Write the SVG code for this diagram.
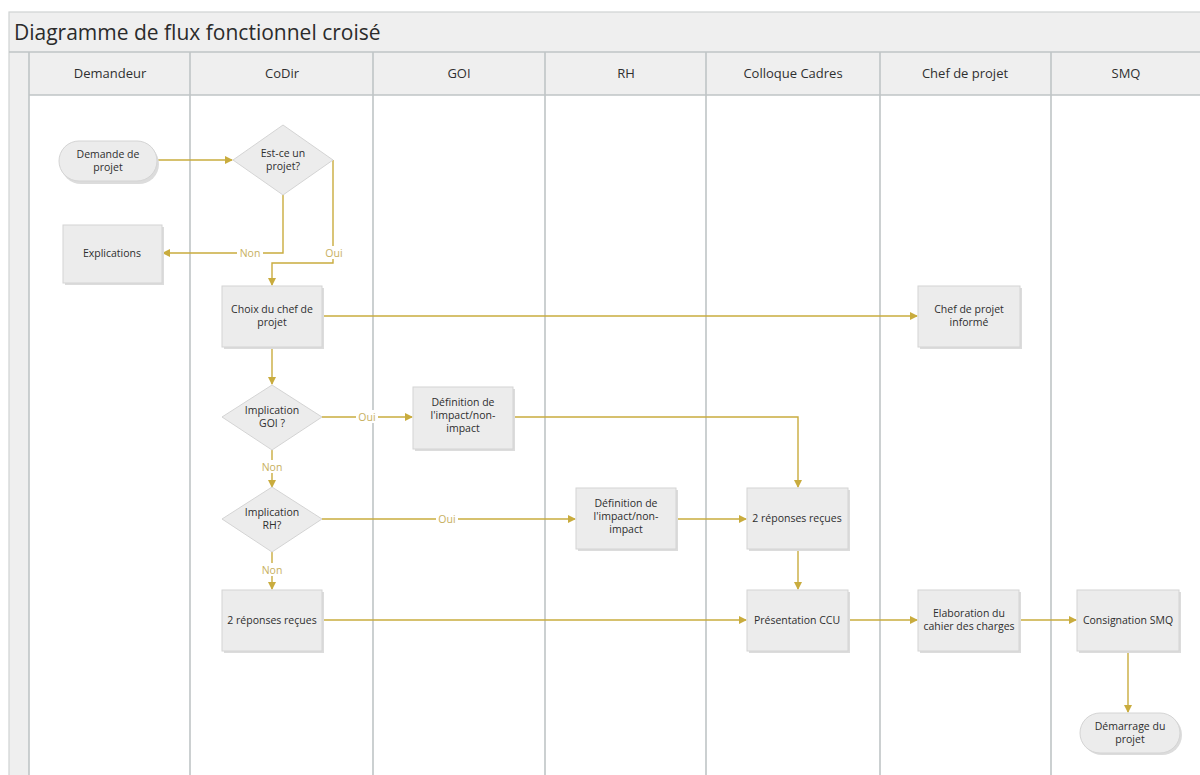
<svg xmlns="http://www.w3.org/2000/svg" width="1200" height="775" viewBox="0 0 1200 775">
<style>
  .frame{fill:#efefef;stroke:#cfd3d3;stroke-width:1.2}
  .lane{stroke:#bfc5c6;stroke-width:1.6;fill:none}
  .title{font-family:"Open Sans","Noto Sans",sans-serif;font-size:21px;fill:#2b2b2b}
  .hdr{font-family:"Open Sans","Noto Sans",sans-serif;font-size:13px;fill:#2f2f2f;text-anchor:middle}
  .box{fill:#ececec;stroke:#d4d4d4;stroke-width:1}
  .shadow{fill:#dcdcdc}
  .t{font-family:"Open Sans","Noto Sans",sans-serif;font-size:10.5px;fill:#2e2e2e;text-anchor:middle}
  .c{stroke:#c9ac3e;stroke-width:1.4;fill:none}
  .lbl{font-family:"Open Sans","Noto Sans",sans-serif;font-size:10.5px;fill:#c7b060;text-anchor:middle}
  .lblbg{fill:#ffffff}
</style>
<defs>
  <marker id="ah" markerWidth="8" markerHeight="8" refX="7" refY="4" orient="auto" markerUnits="userSpaceOnUse">
    <path d="M0,0 L8,4 L0,8 Z" fill="#c9ac3e"/>
  </marker>
</defs>
<rect x="0" y="0" width="1200" height="775" fill="#ffffff"/>
<g id="pool">
  <rect class="frame" x="9" y="12" width="1200" height="780"/>
  <rect x="29" y="95" width="1180" height="700" fill="#ffffff"/>
  <line class="lane" x1="9" y1="52" x2="1200" y2="52"/>
  <line class="lane" x1="29" y1="95" x2="1200" y2="95"/>
  <line class="lane" x1="29" y1="52" x2="29" y2="775"/>
  <line class="lane" x1="190" y1="52" x2="190" y2="775"/>
  <line class="lane" x1="373" y1="52" x2="373" y2="775"/>
  <line class="lane" x1="545" y1="52" x2="545" y2="775"/>
  <line class="lane" x1="706" y1="52" x2="706" y2="775"/>
  <line class="lane" x1="880" y1="52" x2="880" y2="775"/>
  <line class="lane" x1="1051" y1="52" x2="1051" y2="775"/>
  <text class="title" x="14" y="40">Diagramme de flux fonctionnel croisé</text>
  <text class="hdr" x="110" y="78">Demandeur</text>
  <text class="hdr" x="282" y="78">CoDir</text>
  <text class="hdr" x="459" y="78">GOI</text>
  <text class="hdr" x="626" y="78">RH</text>
  <text class="hdr" x="793" y="78">Colloque Cadres</text>
  <text class="hdr" x="965" y="78">Chef de projet</text>
  <text class="hdr" x="1126" y="78">SMQ</text>
</g>
<g id="connectors">
  <line class="c" x1="157" y1="160" x2="232" y2="160" marker-end="url(#ah)"/>
  <polyline class="c" points="283,195 283,253 163,253" marker-end="url(#ah)"/>
  <polyline class="c" points="333,160 333,263 272,263 272,285" marker-end="url(#ah)"/>
  <line class="c" x1="323" y1="316" x2="917" y2="316" marker-end="url(#ah)"/>
  <line class="c" x1="272" y1="347" x2="272" y2="384" marker-end="url(#ah)"/>
  <line class="c" x1="322" y1="417" x2="412" y2="417" marker-end="url(#ah)"/>
  <polyline class="c" points="514,417 798,417 798,487" marker-end="url(#ah)"/>
  <line class="c" x1="272" y1="450" x2="272" y2="487" marker-end="url(#ah)"/>
  <line class="c" x1="322" y1="519" x2="575" y2="519" marker-end="url(#ah)"/>
  <line class="c" x1="677" y1="519" x2="746" y2="519" marker-end="url(#ah)"/>
  <line class="c" x1="272" y1="552" x2="272" y2="589" marker-end="url(#ah)"/>
  <line class="c" x1="323" y1="620" x2="746" y2="620" marker-end="url(#ah)"/>
  <line class="c" x1="798" y1="550" x2="798" y2="589" marker-end="url(#ah)"/>
  <line class="c" x1="848" y1="620" x2="917" y2="620" marker-end="url(#ah)"/>
  <line class="c" x1="1020" y1="620" x2="1076" y2="620" marker-end="url(#ah)"/>
  <line class="c" x1="1128" y1="651" x2="1128" y2="712" marker-end="url(#ah)"/>
  <rect class="lblbg" x="237" y="246" width="26" height="13"/>
  <text class="lbl" x="250" y="257">Non</text>
  <rect class="lblbg" x="323" y="246" width="22" height="13"/>
  <text class="lbl" x="334" y="257">Oui</text>
  <rect class="lblbg" x="356" y="410" width="22" height="13"/>
  <text class="lbl" x="367" y="421">Oui</text>
  <rect class="lblbg" x="259" y="460" width="26" height="13"/>
  <text class="lbl" x="272" y="471">Non</text>
  <rect class="lblbg" x="436" y="512" width="22" height="13"/>
  <text class="lbl" x="447" y="523">Oui</text>
  <rect class="lblbg" x="259" y="563" width="26" height="13"/>
  <text class="lbl" x="272" y="574">Non</text>
</g>
<g id="n-demande">
  <rect class="shadow" x="61" y="144" width="98" height="40" rx="20"/>
  <rect class="box" x="59" y="141" width="98" height="40" rx="20"/>
  <text class="t" x="108" y="158">Demande de</text>
  <text class="t" x="108" y="171">projet</text>
</g>
<g id="n-est-projet">
  <polygon class="box" points="283,125 333,160 283,195 233,160"/>
  <text class="t" x="283" y="157">Est-ce un</text>
  <text class="t" x="283" y="170">projet?</text>
</g>
<g id="n-explications">
  <rect class="shadow" x="65" y="227" width="99" height="58"/>
  <rect class="box" x="63" y="225" width="99" height="58"/>
  <text class="t" x="112" y="257">Explications</text>
</g>
<g id="n-choix">
  <rect class="shadow" x="224" y="288" width="100" height="61"/>
  <rect class="box" x="222" y="286" width="100" height="61"/>
  <text class="t" x="272" y="313">Choix du chef de</text>
  <text class="t" x="272" y="326">projet</text>
</g>
<g id="n-chef-informe">
  <rect class="shadow" x="920" y="288" width="102" height="61"/>
  <rect class="box" x="918" y="286" width="102" height="61"/>
  <text class="t" x="969" y="313">Chef de projet</text>
  <text class="t" x="969" y="326">informé</text>
</g>
<g id="n-impl-goi">
  <polygon class="box" points="272,385 322,417 272,450 222,417"/>
  <text class="t" x="272" y="414">Implication</text>
  <text class="t" x="272" y="427">GOI ?</text>
</g>
<g id="n-def-goi">
  <rect class="shadow" x="415" y="389" width="100" height="62"/>
  <rect class="box" x="413" y="387" width="100" height="62"/>
  <text class="t" x="463" y="406">Définition de</text>
  <text class="t" x="463" y="419">l'impact/non-</text>
  <text class="t" x="463" y="432">impact</text>
</g>
<g id="n-impl-rh">
  <polygon class="box" points="272,487 322,519 272,552 222,519"/>
  <text class="t" x="272" y="516">Implication</text>
  <text class="t" x="272" y="529">RH?</text>
</g>
<g id="n-def-rh">
  <rect class="shadow" x="578" y="490" width="100" height="61"/>
  <rect class="box" x="576" y="488" width="100" height="61"/>
  <text class="t" x="626" y="507">Définition de</text>
  <text class="t" x="626" y="520">l'impact/non-</text>
  <text class="t" x="626" y="533">impact</text>
</g>
<g id="n-reponses-cc">
  <rect class="shadow" x="749" y="490" width="101" height="61"/>
  <rect class="box" x="747" y="488" width="101" height="61"/>
  <text class="t" x="797" y="522">2 réponses reçues</text>
</g>
<g id="n-reponses-codir">
  <rect class="shadow" x="224" y="592" width="100" height="61"/>
  <rect class="box" x="222" y="590" width="100" height="61"/>
  <text class="t" x="272" y="624">2 réponses reçues</text>
</g>
<g id="n-presentation">
  <rect class="shadow" x="749" y="592" width="101" height="61"/>
  <rect class="box" x="747" y="590" width="101" height="61"/>
  <text class="t" x="797" y="624">Présentation CCU</text>
</g>
<g id="n-elaboration">
  <rect class="shadow" x="920" y="592" width="101" height="61"/>
  <rect class="box" x="918" y="590" width="101" height="61"/>
  <text class="t" x="969" y="617">Elaboration du</text>
  <text class="t" x="969" y="630">cahier des charges</text>
</g>
<g id="n-consignation">
  <rect class="shadow" x="1079" y="592" width="102" height="61"/>
  <rect class="box" x="1077" y="590" width="102" height="61"/>
  <text class="t" x="1128" y="624">Consignation SMQ</text>
</g>
<g id="n-demarrage">
  <rect class="shadow" x="1082" y="715" width="100" height="40" rx="20"/>
  <rect class="box" x="1080" y="713" width="100" height="40" rx="20"/>
  <text class="t" x="1130" y="730">Démarrage du</text>
  <text class="t" x="1130" y="743">projet</text>
</g>
</svg>
